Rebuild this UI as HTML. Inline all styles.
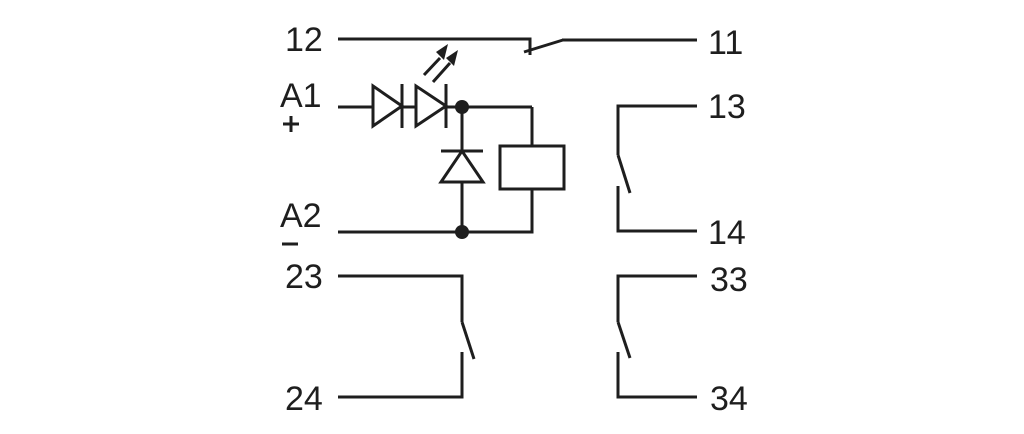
<!DOCTYPE html>
<html><head><meta charset="utf-8"><style>
html,body{margin:0;padding:0;background:#fff;width:1024px;height:434px;overflow:hidden}
</style></head><body>
<svg width="1024" height="434" viewBox="0 0 1024 434" xmlns="http://www.w3.org/2000/svg">
<g stroke="#1e1e1e" stroke-width="3" fill="none" stroke-linecap="butt">
<polyline points="338,39 530,39 530,55"/>
<line x1="524" y1="52" x2="563" y2="40"/>
<line x1="562" y1="40" x2="697" y2="40"/>
<line x1="338" y1="107" x2="532" y2="107"/>
<polyline points="532,107 532,146"/>
<rect x="500" y="146" width="64" height="43"/>
<polyline points="532,189 532,232 338,232"/>
<line x1="462" y1="107" x2="462" y2="232"/>
<polygon points="373,86 373,126 402,106" fill="#fff"/>
<line x1="402" y1="84" x2="402" y2="128"/>
<polygon points="416,86 416,126 446,106" fill="#fff"/>
<line x1="446" y1="84" x2="446" y2="128"/>
<polygon points="441,182 483,182 462,151" fill="#fff"/>
<line x1="441" y1="151" x2="483" y2="151"/>
<line x1="424" y1="75" x2="440" y2="58"/>
<line x1="433" y1="82" x2="450" y2="63"/>
<polyline points="338,276 462,276 462,322"/>
<line x1="462" y1="322" x2="474" y2="359"/>
<polyline points="462,352 462,397 338,397"/>
<polyline points="697,276 618,276 618,322"/>
<line x1="618" y1="322" x2="630" y2="358"/>
<polyline points="618,352 618,397 697,397"/>
<polyline points="697,106 618,106 618,155"/>
<line x1="618" y1="155" x2="630" y2="193"/>
<polyline points="618,186 618,231 697,231"/>
<!-- plus / minus -->
<line x1="283" y1="124" x2="299" y2="124"/>
<line x1="291" y1="116" x2="291" y2="132"/>
<line x1="282" y1="244" x2="298" y2="244"/>
</g>
<g fill="#1e1e1e">
<circle cx="462" cy="107" r="7"/>
<circle cx="462" cy="232" r="7"/>
<polygon points="436,52 448,44 444,60"/>
<polygon points="446,58 458,50 454,66"/>
</g>
<g font-family="Liberation Sans, sans-serif" font-size="34" fill="#1e1e1e">
<text x="285" y="51">12</text>
<text x="708" y="54">11</text>
<text x="280" y="107">A1</text>
<text x="280" y="227">A2</text>
<text x="708" y="118">13</text>
<text x="708" y="244">14</text>
<text x="285" y="288">23</text>
<text x="285" y="410">24</text>
<text x="710" y="291">33</text>
<text x="710" y="410">34</text>
</g>
</svg>
</body></html>
